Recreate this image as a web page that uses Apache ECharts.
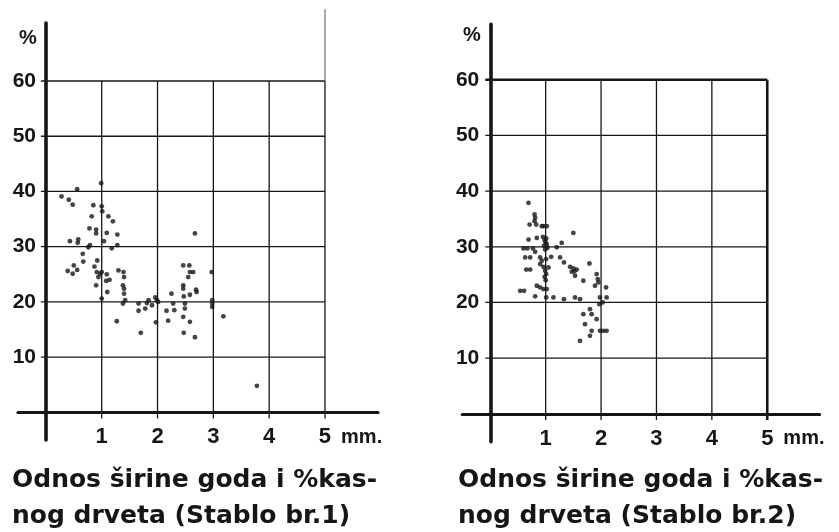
<!DOCTYPE html>
<html>
<head>
<meta charset="utf-8">
<script src="https://cdn.jsdelivr.net/npm/echarts@6/dist/echarts.min.js"></script>
<style>
html,body{margin:0;padding:0;background:#ffffff;}
#chart{width:839px;height:532px;}
</style>
</head>
<body>
<div id="chart"></div>
<script>
// ---- data ----
var xTickValues = [1, 2, 3, 4, 5];
var yTickValues = [10, 20, 30, 40, 50, 60];
var xUnit = 'mm.';
var yUnit = '%';
var caption1 = ['Odnos širine goda i %kas-', 'nog drveta (Stablo br.1)'];
var caption2 = ['Odnos širine goda i %kas-', 'nog drveta (Stablo br.2)'];

// Stablo br.1 : [širina goda (mm), % kasnog drveta]
var tree1Points = [
  [0.28,39.1],[0.41,38.5],[0.48,37.6],[0.56,40.4],[0.43,31.0],[0.57,30.7],[0.58,31.3],
  [0.66,28.7],[0.67,27.3],[0.39,25.6],[0.48,25.1],[0.50,26.6],[0.56,25.8],
  [0.76,29.9],[0.79,30.3],[0.78,33.3],[0.82,35.5],[0.85,37.5],[0.90,33.1],[0.90,32.4],
  [0.87,26.4],[0.92,27.5],[0.91,25.4],[0.90,23.0],[0.94,24.5],[0.97,25.1],
  [0.99,41.5],[1.00,37.3],[1.01,36.4],[1.00,25.4],[1.00,20.6],[1.04,31.0],[1.08,23.8],
  [1.09,25.0],[1.09,32.5],[1.12,35.5],[1.18,29.7],[1.20,34.6],[1.14,24.0],[1.10,21.8],
  [1.28,32.2],[1.28,30.3],[1.27,16.5],[1.30,25.7],[1.39,25.4],[1.40,24.5],[1.38,23.0],
  [1.40,22.4],[1.40,21.5],[1.42,20.3],[1.38,19.7],
  [1.66,19.7],[1.66,18.4],[1.70,14.4],[1.78,18.8],[1.81,19.8],[1.84,20.3],[1.90,19.4],
  [1.96,20.8],[1.99,20.3],[1.97,16.3],[2.01,20.0],[2.16,18.4],[2.19,16.6],[2.25,21.5],
  [2.28,19.7],[2.30,18.5],[2.46,26.6],[2.46,23.0],[2.46,22.4],[2.47,21.0],[2.49,19.7],
  [2.49,18.8],[2.46,17.3],[2.47,14.4],[2.57,26.6],[2.58,25.4],[2.55,24.5],[2.64,25.4],
  [2.58,21.3],[2.58,16.4],[2.67,32.4],[2.67,13.6],[2.69,22.2],[2.70,21.8],
  [2.97,25.4],[2.98,20.3],[2.98,19.7],[2.98,19.1],[3.18,17.4],[3.78,4.8]
];

// Stablo br.2
var tree2Points = [
  [0.69,37.9],[0.80,35.8],[0.81,35.2],[0.80,34.6],[0.71,34.0],[0.83,34.0],[0.93,33.7],[1.02,33.7],[0.96,33.7],
  [0.69,31.3],[0.84,31.6],[0.95,31.8],[0.98,31.2],[1.00,30.8],[1.02,30.4],[0.97,30.2],[1.03,29.8],[0.99,29.5],[1.01,31.5],
  [0.60,29.7],[0.67,29.7],[0.77,29.7],[0.81,29.1],[1.20,29.9],[1.29,30.7],[1.50,32.5],
  [0.63,28.1],[0.72,28.1],[0.90,28.1],[0.93,27.5],[1.01,27.8],[1.10,28.2],
  [0.65,25.9],[0.72,25.9],[0.90,26.9],[0.96,26.4],[0.99,25.7],[1.01,25.1],[1.05,26.3],[0.98,24.6],[1.00,24.0],
  [1.26,28.1],[1.33,27.2],[1.44,26.4],[1.50,26.1],[1.56,25.9],[1.47,25.5],[1.53,24.8],[1.68,23.9],[1.79,27.0],[1.52,25.6],
  [0.54,22.1],[0.61,22.1],[0.84,23.0],[0.90,22.7],[0.96,22.4],[1.02,22.4],[0.81,21.1],[1.01,20.9],[1.14,20.9],[1.33,20.6],[1.53,20.9],[1.62,20.6],
  [1.92,25.1],[1.94,24.2],[1.95,23.6],[1.89,23.0],[2.09,22.7],[1.98,20.9],[2.10,20.9],[2.03,20.0],[1.97,19.7],
  [1.68,17.9],[1.80,18.8],[1.83,17.9],[1.71,16.1],[1.92,17.0],[1.83,14.9],[1.80,14.0],[1.62,13.1],[1.98,14.9],[2.04,14.9],[2.10,14.9]
];

// ---- build ----
var INK = '#161616';
var xMaxTick = xTickValues[xTickValues.length - 1];
var yMaxTick = yTickValues[yTickValues.length - 1];
var TICK_X = -0.11;   // grid lines poke ~6px below the x axis (tick marks)
var TICK_Y = -0.09;   // and ~5px left of the y axis

function gridSeries(idx, heavyEdges) {
  var out = [];
  xTickValues.forEach(function (x) {
    var heavy = heavyEdges && x === xMaxTick;
    out.push({
      type: 'line', xAxisIndex: idx, yAxisIndex: idx, silent: true, symbol: 'none', clip: false,
      data: [[x, TICK_X * 10], [x, yMaxTick]],
      lineStyle: { color: INK, width: heavy ? 2.6 : 1.3 }, z: 1
    });
  });
  yTickValues.forEach(function (y) {
    var heavy = heavyEdges && y === yMaxTick;
    out.push({
      type: 'line', xAxisIndex: idx, yAxisIndex: idx, silent: true, symbol: 'none', clip: false,
      data: [[TICK_Y, y], [xMaxTick, y]],
      lineStyle: { color: INK, width: heavy ? 2.6 : 1.3 }, z: 1
    });
  });
  return out;
}

function xAxisDef(idx, min, max) {
  return {
    type: 'value', gridIndex: idx, min: min, max: max,
    splitLine: { show: false },
    axisLine: { show: true, onZero: true, lineStyle: { color: INK, width: 3.2 } },
    axisTick: { show: false },
    axisLabel: {
      show: true, customValues: xTickValues, margin: -14,
      color: INK, fontFamily: 'Liberation Sans', fontWeight: 'bold', fontSize: 22,
      formatter: function (v) { return v === xMaxTick ? '{p|}' + v + '{u|  ' + xUnit + '}' : String(v); },
      rich: {
        p: { width: 50 },
        u: { color: INK, fontFamily: 'Liberation Sans', fontWeight: 'bold', fontSize: 20, width: 50, align: 'left' }
      }
    }
  };
}

function yAxisDef(idx, min, max, margin) {
  return {
    type: 'value', gridIndex: idx, min: min, max: max,
    splitLine: { show: false },
    axisLine: { show: true, onZero: true, lineStyle: { color: INK, width: 3.6 } },
    axisTick: { show: false },
    axisLabel: {
      show: true, customValues: yTickValues, margin: margin,
      color: INK, fontFamily: 'Liberation Sans', fontWeight: 'bold', fontSize: 21
    }
  };
}

function scatter(idx, pts) {
  return {
    type: 'scatter', xAxisIndex: idx, yAxisIndex: idx, data: pts,
    symbol: 'circle', symbolSize: 4.8, itemStyle: { color: INK }, z: 5, silent: true
  };
}

var captionStyle = { fontFamily: 'DejaVu Sans', fontWeight: 'bold', fontSize: 25, fill: INK };

var series = []
  .concat(gridSeries(0, false))
  .concat(gridSeries(1, true))
  .concat([
    // thin extension of the right edge of the left grid
    { type: 'line', xAxisIndex: 0, yAxisIndex: 0, silent: true, symbol: 'none', clip: false,
      data: [[xMaxTick, yMaxTick], [xMaxTick, 73]], lineStyle: { color: '#555', width: 1 }, z: 1 },
    scatter(0, tree1Points),
    scatter(1, tree2Points)
  ]);

var option = {
  backgroundColor: '#ffffff',
  animation: false,
  grid: [
    { left: 18, top: 23, width: 360, height: 417, containLabel: false, outerBoundsMode: 'none' },
    { left: 462.3, top: 24.3, width: 357.3, height: 417.5, containLabel: false, outerBoundsMode: 'none' }
  ],
  xAxis: [xAxisDef(0, -0.5, 5.95), xAxisDef(1, -0.505, 5.945)],
  yAxis: [yAxisDef(0, -5, 70.5, -18), yAxisDef(1, -5.03, 69.97, -17)],
  series: series,
  graphic: [
    { type: 'text', x: 28, y: 38, style: { text: yUnit, font: 'bold 20px Liberation Sans', fill: INK, align: 'center', verticalAlign: 'middle' } },
    { type: 'text', x: 472, y: 35, style: { text: yUnit, font: 'bold 20px Liberation Sans', fill: INK, align: 'center', verticalAlign: 'middle' } },
    { type: 'text', x: 12, y: 480, style: Object.assign({ text: caption1[0], verticalAlign: 'middle' }, captionStyle) },
    { type: 'text', x: 12, y: 516, style: Object.assign({ text: caption1[1], verticalAlign: 'middle' }, captionStyle) },
    { type: 'text', x: 458, y: 480, style: Object.assign({ text: caption2[0], verticalAlign: 'middle' }, captionStyle) },
    { type: 'text', x: 458, y: 516, style: Object.assign({ text: caption2[1], verticalAlign: 'middle' }, captionStyle) }
  ]
};

var chart = echarts.init(document.getElementById('chart'), null, { renderer: 'canvas' });
chart.setOption(option);
</script>
</body>
</html>
